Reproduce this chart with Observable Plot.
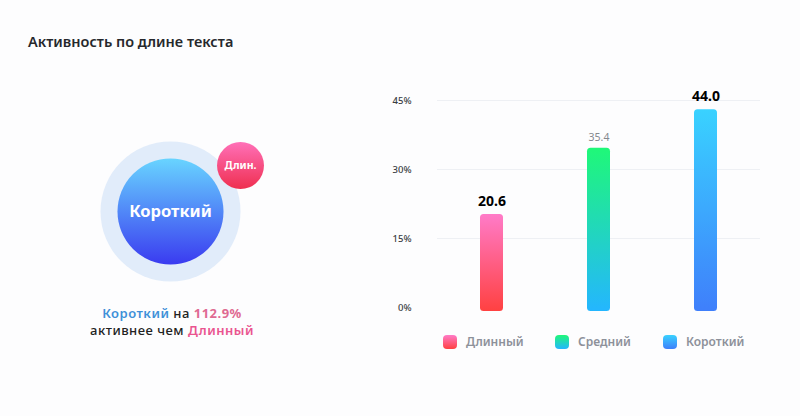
<!DOCTYPE html>
<html lang="ru"><head><meta charset="utf-8">
<script src="https://cdn.jsdelivr.net/npm/d3@7"></script>
<script src="https://cdn.jsdelivr.net/npm/@observablehq/plot@0.6"></script>
<style>
html,body{margin:0;padding:0;background:#fdfdfe;overflow:hidden}
body{width:800px;height:416px;position:relative;font-family:"Noto Sans",sans-serif}
#left,#right{position:absolute;left:0;top:0}
.t{position:absolute;white-space:nowrap}
#title{left:28px;top:31px;font-size:14.5px;font-weight:600;color:#26282c;line-height:20px}
#note{left:0;width:344px;top:305px;text-align:center;font-size:13px;line-height:17px;font-weight:500;color:#222;letter-spacing:.5px}
.lg{font-size:12px;font-weight:600;color:#8d919a;line-height:16px;top:334px}
.sw{position:absolute;top:335px;width:14px;height:14px;border-radius:4px}
</style></head><body>
<div id="left"></div><div id="right"></div>
<div class="t" id="title"></div>
<div class="t" id="note"><span style="color:#3f90d8;font-weight:600" id="n1"></span> на <span style="color:#df6a92;font-weight:700" id="n2"></span><br>активнее чем <span style="color:#ea5590;font-weight:600" id="n3"></span></div>
<div id="legend"></div>
<script>
const titleText = "Активность по длине текста";
const categories = ["Длинный", "Средний", "Короткий"];
const barValues = [20.2, 34.6, 43.0];      // bar tops as read against the axis
const valueLabels = ["20.6", "35.4", "44.0"];
const yTicks = [0, 15, 30, 45];
const bubbleNames = ["Короткий", "Длин."];
const bubbleValues = [44, 20.6];
const percentText = "112.9%";
const gradients = [["#ff7bc8", "#ff4141"], ["#1ff878", "#24b6ff"], ["#39d2ff", "#3f7ffb"]];
const bubbleGradients = [["#68d4ff", "#3a3bf0"], ["#ff70b8", "#ef2f50"]];

const defs = (list, prefix) => () => {
  const d = d3.create("svg:defs");
  list.forEach((c, i) => {
    const g = d.append("linearGradient").attr("id", prefix + i).attr("x1", 0).attr("x2", 0).attr("y1", 0).attr("y2", 1);
    g.append("stop").attr("offset", 0).attr("stop-color", c[0]);
    g.append("stop").attr("offset", 1).attr("stop-color", c[1]);
  });
  return d.node();
};

const font = '"Noto Sans",sans-serif';
const bars = categories.map((c, i) => ({c, v: barValues[i], label: valueLabels[i], i}));
const bubbles = bubbleNames.map((n, i) => ({n, v: bubbleValues[i], i}));

document.getElementById("right").append(Plot.plot({
  width: 800, height: 416, marginLeft: 437, marginRight: 40, marginTop: 0, marginBottom: 0,
  style: {background: "transparent", fontFamily: font},
  x: {type: "band", domain: categories, paddingInner: 0.787, paddingOuter: 0.394, axis: null},
  y: {domain: [0, 45], range: [307, 100], axis: null},
  color: {type: "identity"},
  marks: [
    defs(gradients, "bar"),
    Plot.ruleY(yTicks.filter(d => d > 0), {stroke: "#eef0f4", strokeWidth: 1}),
    Plot.axisY(yTicks, {anchor: "left", tickSize: 0, tickPadding: 26, label: null, dy: 0.5,
      tickFormat: d => d + "%", fontSize: 9.5, fontWeight: 500, fill: "#3b3e44"}),
    Plot.barY(bars, {x: "c", y: "v", fill: d => `url(#bar${d.i})`, rx: 3.5, insetBottom: -4}),
    Plot.text(bars.filter(d => d.c !== "Средний"), {x: "c", y: "v", text: "label", dy: -13, fontSize: 14, fontWeight: 700, fill: "#000"}),
    Plot.text(bars.filter(d => d.c === "Средний"), {x: "c", y: "v", text: "label", dy: -11, fontSize: 10.5, fill: "#85888f"})
  ]
}));

document.getElementById("left").append(Plot.plot({
  width: 800, height: 416, margin: 0,
  style: {background: "transparent", fontFamily: font},
  x: {type: "point", domain: bubbleNames, range: [170, 240], padding: 0, axis: null},
  y: {type: "point", domain: bubbleNames, range: [211, 165], padding: 0, axis: null},
  r: {type: "linear", domain: [2, 44], range: [0, 53]},
  color: {type: "identity"},
  marks: [
    defs(bubbleGradients, "bub"),
    Plot.dot(bubbles.filter(d => d.i === 0), {x: "n", y: "n", r: 70, fill: "#e1ecfa"}),
    Plot.dot(bubbles, {x: "n", y: "n", r: "v", fill: d => `url(#bub${d.i})`}),
    Plot.text(bubbles, {x: "n", y: "n", text: "n", fill: "#fff", fontWeight: 700,
      fontSize: d => d.i === 0 ? 16.5 : 10.5})
  ]
}));

document.getElementById("title").textContent = titleText;
document.getElementById("n1").textContent = categories[2];
document.getElementById("n2").textContent = percentText;
document.getElementById("n3").textContent = categories[0];
const lg = document.getElementById("legend");
const swX = [443, 555, 663], txX = [466, 578, 686];
categories.forEach((c, i) => {
  const s = document.createElement("div"); s.className = "sw"; s.style.left = swX[i] + "px";
  s.style.background = `linear-gradient(${gradients[i][0]},${gradients[i][1]})`; lg.append(s);
  const t = document.createElement("div"); t.className = "t lg"; t.style.left = txX[i] + "px"; t.textContent = c; lg.append(t);
});
</script></body></html>
